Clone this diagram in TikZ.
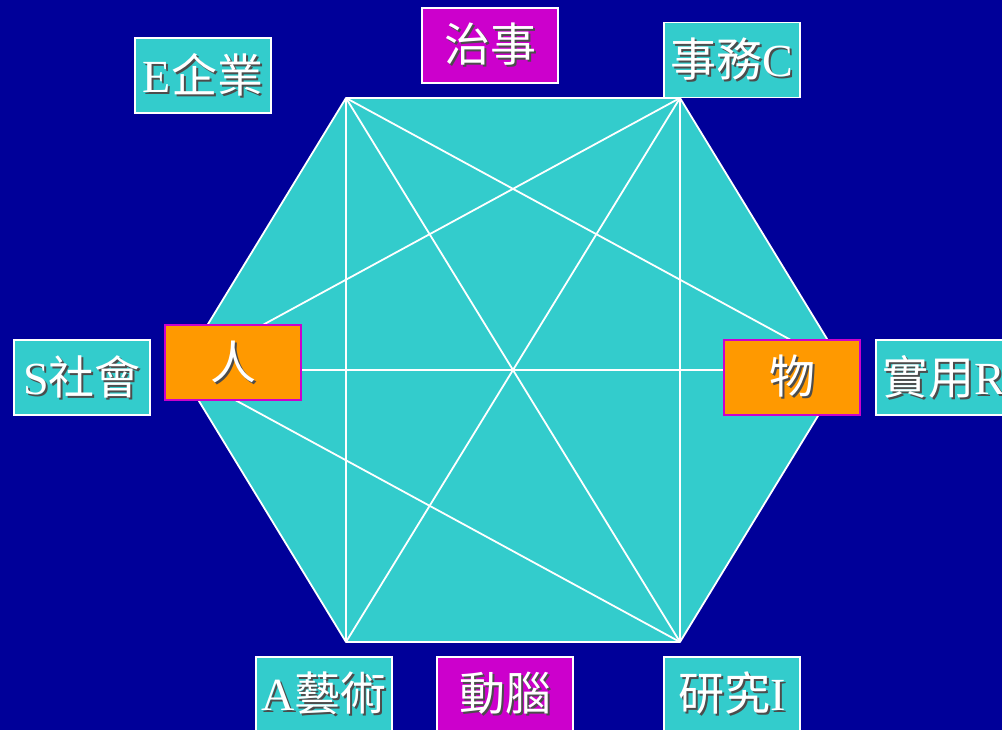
\documentclass[tikz,border=0pt]{standalone}
\usepackage{fontspec}
\setmainfont{Liberation Serif}
\newfontfamily\cjk{Noto Sans CJK TC}
\definecolor{NavyBg}{RGB}{0, 0, 153}
\definecolor{HexTeal}{RGB}{51, 204, 204}
\definecolor{BoxMagenta}{RGB}{204, 0, 204}
\definecolor{BoxOrange}{RGB}{255, 153, 0}
\newcommand{\shtext}[1]{\makebox[0pt][l]{\hspace{2pt}\raisebox{-2pt}{\color{black!70}#1}}#1}

\begin{document}
\begin{tikzpicture}[x=1pt,y=-1pt,
    box/.style={draw=white, line width=1.5pt, fill=HexTeal, minimum width=136pt, minimum height=75pt, inner sep=0pt, text=white, font=\fontsize{46}{50}\selectfont},
    headbox/.style={box, fill=BoxMagenta},
    corebox/.style={box, draw=BoxMagenta, fill=BoxOrange},
    edge/.style={white, line width=1.8pt}]
    \useasboundingbox (0,0) rectangle (1002,730);
    \clip (0,0) rectangle (1002,730);
    \fill[NavyBg] (0,0) rectangle (1002,730);

    % hexagon corners
    \coordinate (tl) at (346,98);
    \coordinate (tr) at (680,98);
    \coordinate (rt) at (846,370);
    \coordinate (br) at (680,642);
    \coordinate (bl) at (346,642);
    \coordinate (lt) at (180,370);

    \draw[edge, fill=HexTeal, line join=round] (tl)--(tr)--(rt)--(br)--(bl)--(lt)--cycle;
    \draw[edge] (tl)--(bl);
    \draw[edge] (tr)--(br);
    \draw[edge] (lt)--(rt);
    \draw[edge] (tl)--(br);
    \draw[edge] (tr)--(bl);
    \draw[edge] (tl)--(rt);
    \draw[edge] (tr)--(lt);
    \draw[edge] (lt)--(br);

    \node[box] (enterprise) at (203,75.5) {\shtext{E\cjk 企業}};
    \node[headbox] (manage) at (490,45.5) {\shtext{\cjk 治事}};
    \node[box] (conventional) at (732,60) {\shtext{{\cjk 事務}C}};
    \node[box] (social) at (82,377.5) {\shtext{S\cjk 社會}};
    \node[corebox] (people) at (233,362.5) {\shtext{\cjk 人}};
    \node[corebox] (things) at (792,377.5) {\shtext{\cjk 物}};
    \node[box] (realistic) at (944,377.5) {\shtext{{\cjk 實用}R}};
    \node[box] (artistic) at (324,694.5) {\shtext{A\cjk 藝術}};
    \node[headbox] (thinking) at (505,694.5) {\shtext{\cjk 動腦}};
    \node[box] (investigative) at (732,694.5) {\shtext{{\cjk 研究}I}};
\end{tikzpicture}
\end{document}
